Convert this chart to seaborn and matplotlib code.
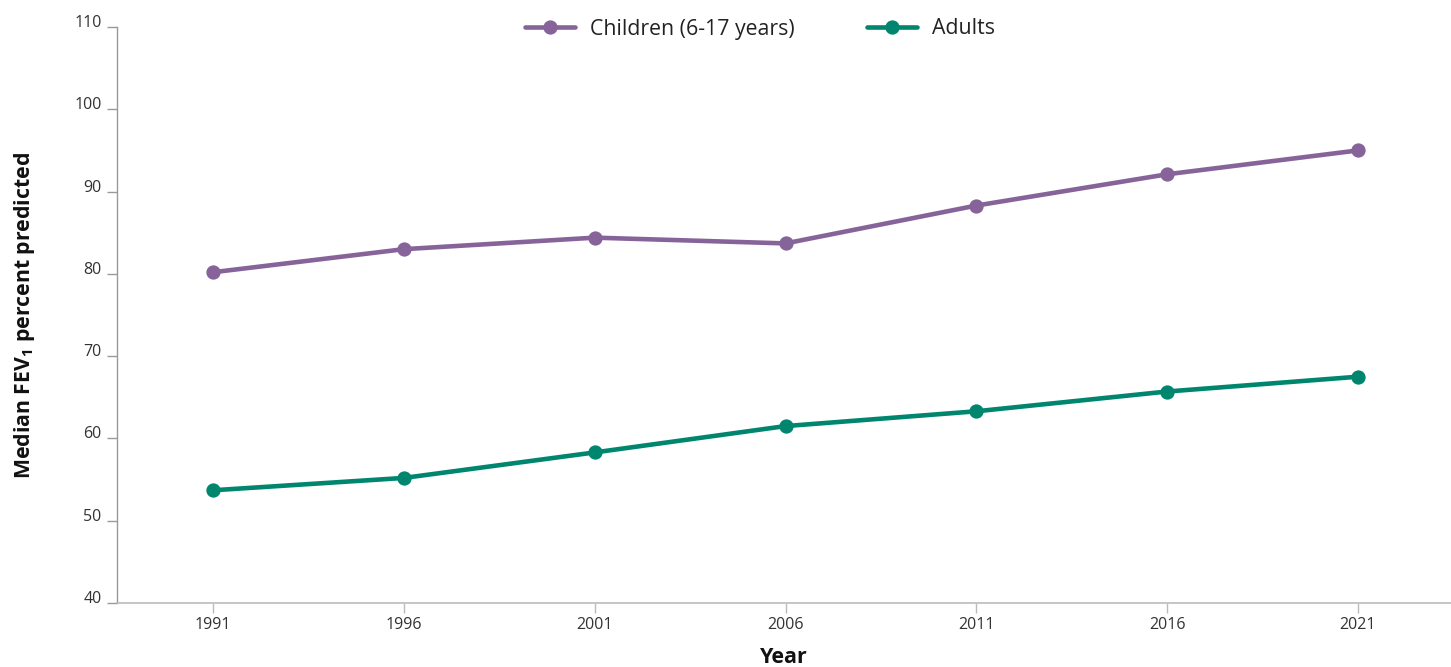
import matplotlib
matplotlib.use("Agg")
import matplotlib.pyplot as plt
import seaborn as sns
import pandas as pd

years = [1991, 1996, 2001, 2006, 2011, 2016, 2021]
children = [80.2, 83.0, 84.4, 83.7, 88.3, 92.1, 95.0]
adults = [53.7, 55.2, 58.3, 61.5, 63.3, 65.7, 67.5]
series_names = ["Children (6-17 years)", "Adults"]
y_ticks = [40, 50, 60, 70, 80, 90, 100, 110]

sns.set_theme(style="white")
plt.rcParams["font.family"] = ["Open Sans", "DejaVu Sans"]
plt.rcParams["mathtext.fontset"] = "custom"
plt.rcParams["mathtext.rm"] = "Open Sans"
plt.rcParams["mathtext.bf"] = "Open Sans:bold"

df = pd.DataFrame({
    "Year": years * 2,
    "value": children + adults,
    "series": [series_names[0]] * len(years) + [series_names[1]] * len(years),
})

palette = {series_names[0]: "#86649a", series_names[1]: "#00866e"}

fig = plt.figure(figsize=(14.51, 6.67), dpi=100)
ax = fig.add_axes([117 / 1451, 1 - 603 / 667, 1 - 117 / 1451, (603 - 27) / 667])

sns.lineplot(data=df, x="Year", y="value", hue="series", palette=palette,
             marker="o", markersize=10.3, markeredgewidth=0, linewidth=3.3,
             ax=ax, legend=True)

ax.set_xlim(1988.48, 2023.44)
ax.set_ylim(40, 110)
ax.set_xticks(years)
ax.set_xticklabels([str(y) for y in years])
ax.set_yticks(y_ticks)
ax.set_yticklabels([str(t) for t in y_ticks])

for s in ["top", "right"]:
    ax.spines[s].set_visible(False)
ax.spines["left"].set_color("#999999")
ax.spines["bottom"].set_color("#bbbbbb")
ax.spines["left"].set_linewidth(1)
ax.spines["bottom"].set_linewidth(1.2)

ax.tick_params(axis="y", which="major", left=True, length=7, width=1,
               color="#999999", labelsize=11.5, labelcolor="#333333", pad=4)
ax.tick_params(axis="x", which="major", bottom=True, length=7, width=1,
               color="#bbbbbb", labelsize=11.5, labelcolor="#333333", pad=3)
for lab in ax.get_yticklabels():
    lab.set_verticalalignment("baseline")

ax.set_xlabel("Year", fontsize=15.5, fontweight="bold", color="#111111", labelpad=10)
ax.set_ylabel(r"Median FEV$_\mathbf{1}$ percent predicted", fontsize=15.3,
              fontweight="bold", color="#111111")
ax.yaxis.set_label_coords(-0.060, 0.5)

handles, labels = ax.get_legend_handles_labels()
ax.get_legend().remove()
fig.legend(handles, labels, loc="center", bbox_to_anchor=(760 / 1451, 1 - 29 / 667),
           ncol=2, frameon=False, fontsize=15.3, handlelength=2.35,
           handletextpad=0.7, columnspacing=3.4, labelcolor="#222222")

fig.savefig("out.png", dpi=100)
